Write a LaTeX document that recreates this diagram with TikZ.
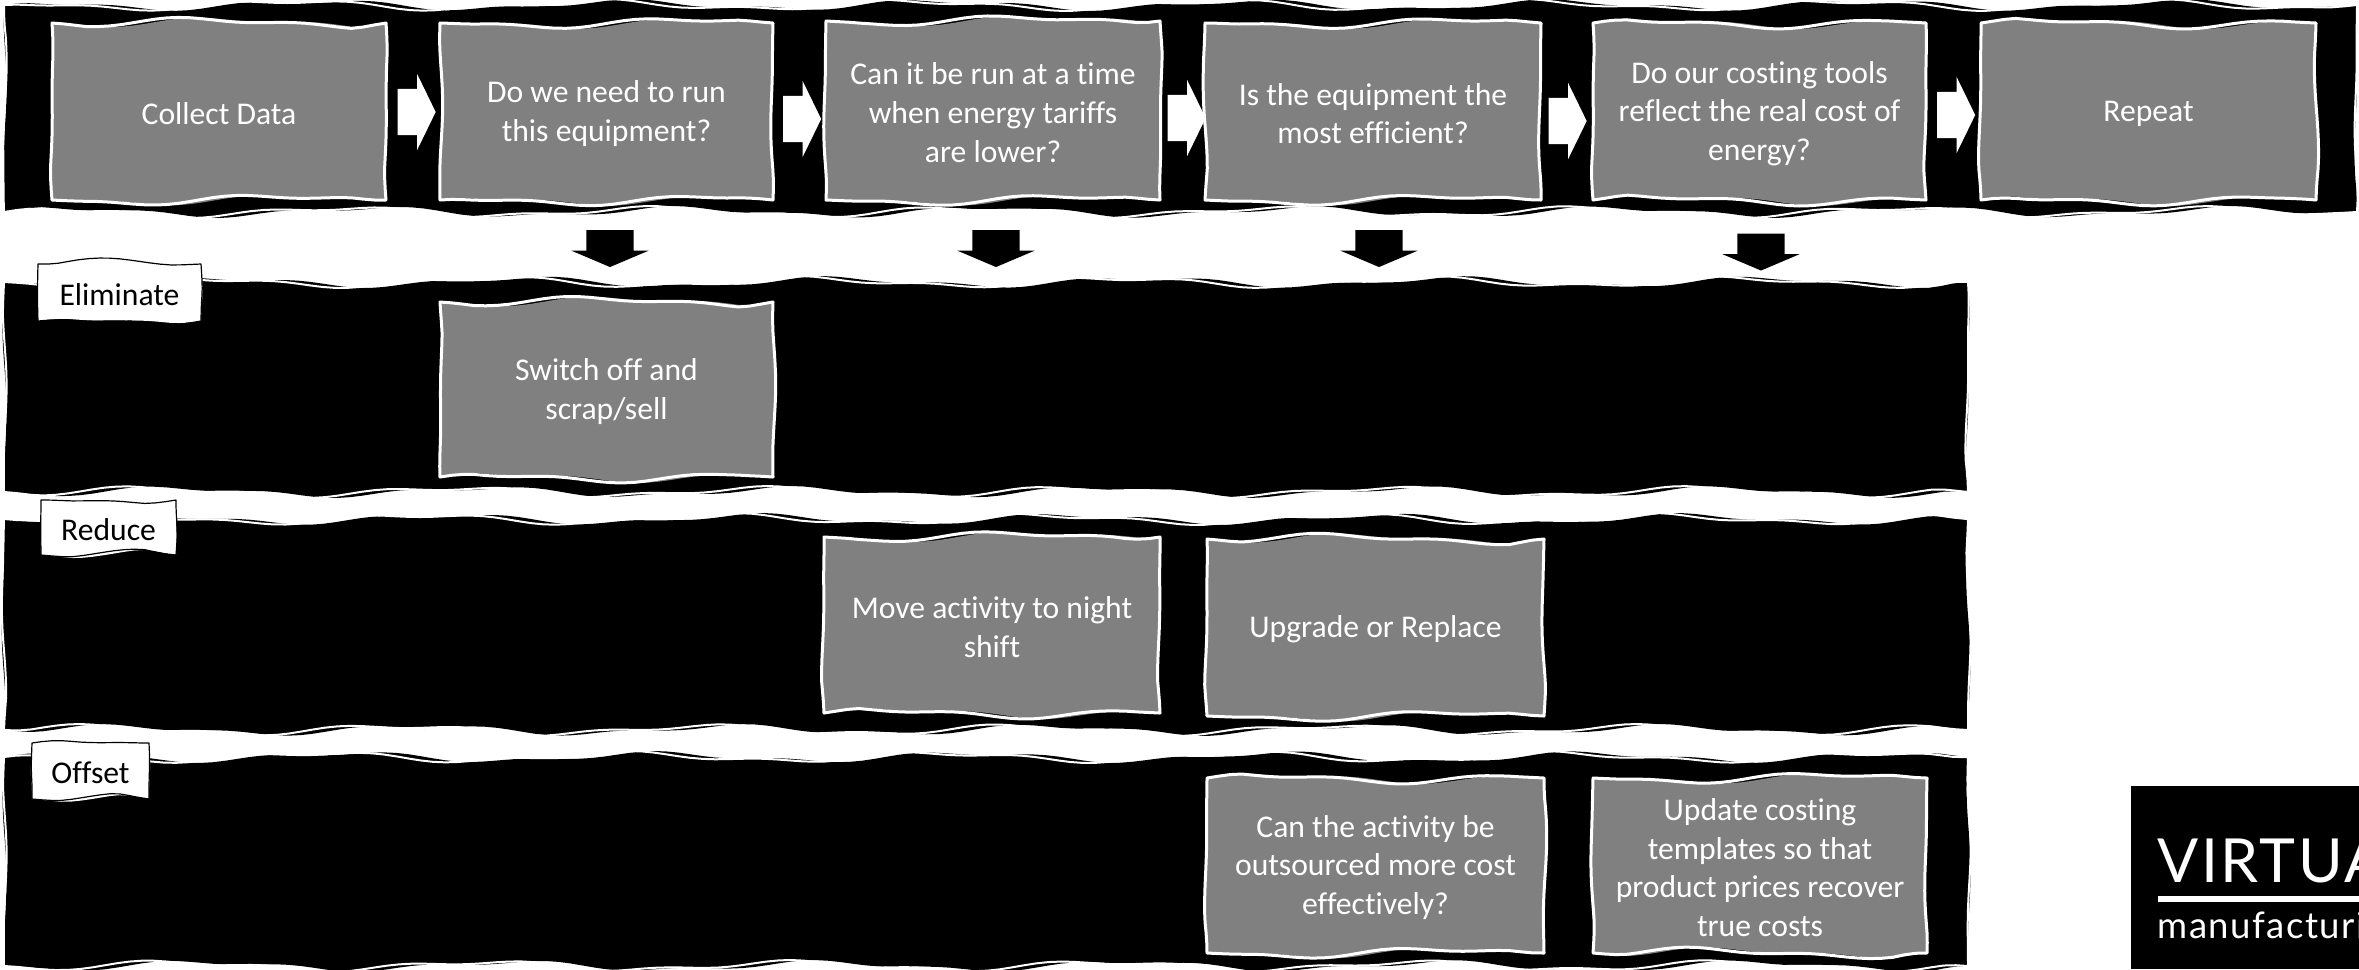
\documentclass[tikz,border=0pt]{standalone}
\usepackage{fontspec}
\setmainfont{Carlito}[Ligatures=NoCommon]
\newfontfamily\logofont[LetterSpace=4]{Lato}
\usetikzlibrary{shapes.arrows}
\tikzset{
    declare function={
        edgefade(\t,\l)=min(1,min(\t*\l*3,(1-\t)*\l*3));
        wig(\t,\l,\p)=edgefade(\t,\l)*(sin(360*\t*\l/3.1+\p)+.5*sin(360*\t*\l/1.3+1.7*\p));
    },
    boxtext/.style={text=white,align=center,font=\fontsize{9}{11}\selectfont,inner sep=0pt,yshift=-.02cm},
    labeltext/.style={boxtext,text=black},
    rightarrow/.style={single arrow,fill=white,inner sep=0pt,text height=.45cm,text width=0pt,minimum height=.38cm,single arrow head extend=.15cm,single arrow tip angle=128},
    downarrow/.style={rightarrow,fill=black,rotate=-90,text height=.46cm,minimum height=.37cm,single arrow tip angle=134}
}
\newcommand{\newphases}{
    \pgfmathsetmacro\pa{360*rnd}\pgfmathsetmacro\pb{360*rnd}
    \pgfmathsetmacro\pc{360*rnd}\pgfmathsetmacro\pd{360*rnd}
}
% one wobbly outline: style, corners, phase shift
\newcommand{\wobble}[6]{
    \pgfmathsetmacro\sidew{abs(#4-#2)}\pgfmathsetmacro\sideh{abs(#5-#3)}
    \pgfmathsetmacro\nx{int(\sidew*8)+4}\pgfmathsetmacro\ny{int(\sideh*8)+4}
    \path[line join=round,#1] plot[domain=0:1,samples=\nx,variable=\t] ({#2+(#4-#2)*\t},{#3+.04*wig(\t,\sidew,\pa+#6)})
        -- plot[domain=0:1,samples=\ny,variable=\t] ({#4+.018*wig(\t,\sideh,\pb+#6)},{#3+(#5-#3)*\t})
        -- plot[domain=1:0,samples=\nx,variable=\t] ({#2+(#4-#2)*\t},{#5+.04*wig(\t,\sidew,\pc+#6)})
        -- plot[domain=1:0,samples=\ny,variable=\t] ({#2+.018*wig(\t,\sideh,\pd+#6)},{#3+(#5-#3)*\t})
        -- cycle;
}
\newcommand{\band}[4]{
    \newphases
    \wobble{fill=black}{#1}{#2}{#3}{#4}{0}
    \wobble{draw=white,line width=.02cm}{#1}{#2}{#3}{#4}{35}
}
\newcommand{\stepbox}[6]{
    \newphases
    \wobble{fill=gray}{#2}{#3}{#4}{#5}{0}
    \wobble{draw=white,line width=.03cm}{#2}{#3}{#4}{#5}{25}
    \node[boxtext] (#1) at ({(#2+#4)/2},{(#3+#5)/2}) {#6};
}
\newcommand{\tagbox}[6]{
    \newphases
    \wobble{fill=white}{#2}{#3}{#4}{#5}{0}
    \wobble{draw=black,line width=.012cm}{#2}{#3}{#4}{#5}{25}
    \node[labeltext] (#1) at ({(#2+#4)/2},{(#3+#5)/2}) {#6};
}
\begin{document}
\begin{tikzpicture}
\pgfmathsetseed{42}
\useasboundingbox (0,0) rectangle (23.59,-9.69);
\fill[white] (0,0) rectangle (23.59,-9.69);

\band{.04}{-.05}{23.57}{-2.12}
\band{.04}{-2.82}{19.68}{-4.92}
\band{.04}{-5.19}{19.68}{-7.30}
\band{.04}{-7.57}{19.68}{-9.66}

\stepbox{collect}{.52}{-.23}{3.86}{-2}{Collect Data}
\stepbox{run}{4.4}{-.23}{7.73}{-2}{Do we need to run\\this equipment?}
\stepbox{tariff}{8.26}{-.21}{11.6}{-2}{Can it be run at a time\\when energy tariffs\\are lower?}
\stepbox{efficient}{12.05}{-.23}{15.41}{-2}{Is the equipment the\\most efficient?}
\stepbox{costing}{15.93}{-.23}{19.26}{-2}{Do our costing tools\\reflect the real cost of\\energy?}
\stepbox{repeat}{19.81}{-.23}{23.16}{-2}{Repeat}

\stepbox{scrap}{4.4}{-3.02}{7.73}{-4.77}{Switch off and\\scrap/sell}
\stepbox{move}{8.24}{-5.37}{11.6}{-7.13}{Move activity to night\\shift}
\stepbox{upgrade}{12.07}{-5.39}{15.44}{-7.16}{Upgrade or Replace}
\stepbox{outsource}{12.07}{-7.78}{15.44}{-9.53}{Can the activity be\\outsourced more cost\\effectively?}
\stepbox{template}{15.93}{-7.78}{19.27}{-9.53}{Update costing\\templates so that\\product prices recover\\true costs}

\tagbox{eliminate}{.38}{-2.64}{2.01}{-3.21}{Eliminate}
\tagbox{reduce}{.41}{-5}{1.76}{-5.55}{Reduce}
\tagbox{offset}{.32}{-7.43}{1.49}{-7.99}{Offset}

\foreach \i/\x/\y in {1/4.11/-1.12,2/7.965/-1.19,3/11.81/-1.18,4/15.62/-1.21,5/19.505/-1.15}
{
    \node[rightarrow] (next\i) at (\x,\y) {};
}
\foreach \i/\x/\y in {1/6.1/-2.435,2/9.96/-2.435,3/13.79/-2.435,4/17.61/-2.47}
{
    \node[downarrow] (down\i) at (\x,\y) {};
}

\fill[black] (21.31,-7.86) rectangle (23.59,-9.69);
\node[anchor=base west,inner sep=0pt,text=white,font=\logofont\fontsize{17.3}{17.3}\selectfont] (logoname) at (21.57,-8.82) {VIRTUAL};
\fill[white] (21.58,-8.96) rectangle (23.59,-9.02);
\node[anchor=base west,inner sep=0pt,text=white,font=\logofont\fontsize{10.4}{10.4}\selectfont] (logotag) at (21.57,-9.38) {manufacturing};
\end{tikzpicture}
\end{document}
